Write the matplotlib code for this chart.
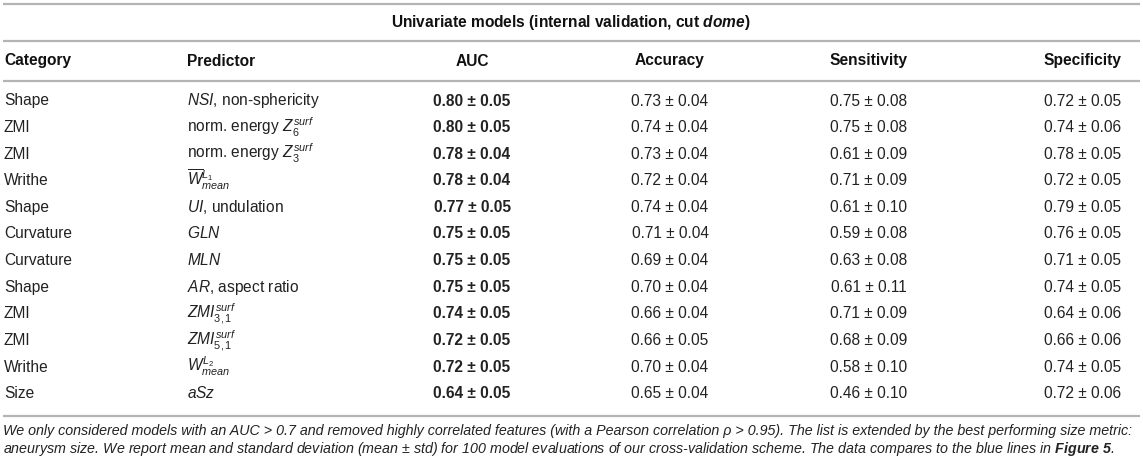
import matplotlib
matplotlib.use("Agg")
import matplotlib.pyplot as plt

plt.rcParams['font.family'] = ['Liberation Sans', 'DejaVu Sans']
plt.rcParams['mathtext.fontset'] = 'custom'
plt.rcParams['mathtext.rm'] = 'Liberation Sans'
plt.rcParams['mathtext.it'] = 'Liberation Sans:italic'
plt.rcParams['mathtext.bf'] = 'Liberation Sans:bold'
plt.rcParams['mathtext.bfit'] = 'Liberation Sans:italic:bold'

# table data
title = r"Univariate models (internal validation, cut $\mathbfit{dome}$)"
headers = ["Category", "Predictor", "AUC", "Accuracy", "Sensitivity", "Specificity"]
categories = ["Shape", "ZMI", "ZMI", "Writhe", "Shape", "Curvature",
              "Curvature", "Shape", "ZMI", "ZMI", "Writhe", "Size"]
predictors = [r"$NSI$, non-sphericity",
              r"norm. energy $Z_6^{surf}$",
              r"norm. energy $Z_3^{surf}$",
              r"$\overline{W}_{mean}^{L_1}$",
              r"$UI$, undulation",
              r"$GLN$",
              r"$MLN$",
              r"$AR$, aspect ratio",
              r"$ZMI_{3,1}^{surf}$",
              r"$ZMI_{5,1}^{surf}$",
              r"$W_{mean}^{L_2}$",
              r"$aSz$"]
auc_mean = [0.80, 0.80, 0.78, 0.78, 0.77, 0.75, 0.75, 0.75, 0.74, 0.72, 0.72, 0.64]
auc_std = [0.05, 0.05, 0.04, 0.04, 0.05, 0.05, 0.05, 0.05, 0.05, 0.05, 0.05, 0.05]
acc_mean = [0.73, 0.74, 0.73, 0.72, 0.74, 0.71, 0.69, 0.70, 0.66, 0.66, 0.70, 0.65]
acc_std = [0.04, 0.04, 0.04, 0.04, 0.04, 0.04, 0.04, 0.04, 0.04, 0.05, 0.04, 0.04]
sens_mean = [0.75, 0.75, 0.61, 0.71, 0.61, 0.59, 0.63, 0.61, 0.71, 0.68, 0.58, 0.46]
sens_std = [0.08, 0.08, 0.09, 0.09, 0.10, 0.08, 0.08, 0.11, 0.09, 0.09, 0.10, 0.10]
spec_mean = [0.72, 0.74, 0.78, 0.72, 0.79, 0.76, 0.71, 0.74, 0.64, 0.66, 0.74, 0.72]
spec_std = [0.05, 0.06, 0.05, 0.05, 0.05, 0.05, 0.05, 0.05, 0.06, 0.06, 0.05, 0.06]

note_line1 = ("We only considered models with an AUC > 0.7 and removed highly correlated "
              "features (with a Pearson correlation ρ > 0.95). The list is extended by the "
              "best performing size metric:")
note_line2 = (r"aneurysm size. We report mean and standard deviation (mean ± std) for 100 "
              r"model evaluations of our cross-validation scheme. The data compares to the "
              r"blue lines in $\mathbfit{Figure\ 5}$.")

# layout (pixels)
W, H = 1143, 463
fs = 11.2
line_color = '#b4b4b4'
col_x = [4, 187, 472, 670, 869, 1121]
col_ha = ['left', 'left', 'center', 'center', 'center', 'right']
row_y0, row_dy = 100, 26.6
base = 5.5  # baseline offset from row centre

fig = plt.figure(figsize=(W / 100, H / 100), dpi=100)
ax = fig.add_axes([0, 0, 1, 1])
ax.set_xlim(0, W)
ax.set_ylim(H, 0)
ax.axis('off')

for y in [4, 40.5, 80.5, 416]:
    ax.plot([3, 1140], [y, y], color=line_color, lw=1.6, solid_capstyle='butt')

ax.text(571, 22 + base, title, ha='center', va='baseline', fontsize=fs,
        fontweight='bold', color='#111111')

for x, ha, h in zip(col_x, col_ha, headers):
    ax.text(x, 60 + base, h, ha=ha, va='baseline', fontsize=fs,
            fontweight='bold', color='#111111')

for i in range(len(categories)):
    y = row_y0 + i * row_dy + base
    cells = [categories[i], predictors[i],
             f"{auc_mean[i]:.2f} ± {auc_std[i]:.2f}",
             f"{acc_mean[i]:.2f} ± {acc_std[i]:.2f}",
             f"{sens_mean[i]:.2f} ± {sens_std[i]:.2f}",
             f"{spec_mean[i]:.2f} ± {spec_std[i]:.2f}"]
    for j, (x, ha, c) in enumerate(zip(col_x, col_ha, cells)):
        ax.text(x, y, c, ha=ha, va='baseline', fontsize=fs, color='#222222',
                fontweight='bold' if j == 2 else 'normal')

# footnote: size chosen so the first line fills the table width
renderer = fig.canvas.get_renderer()
probe = ax.text(0, 0, note_line1, fontsize=10, style='italic')
natural = probe.get_window_extent(renderer).width
probe.remove()
x0, x1 = 3, 1140
fn_fs = 10 * (x1 - x0) / natural

ax.text(x0, 431 + 4.5, note_line1, ha='left', va='baseline', fontsize=fn_fs,
        style='italic', color='#222222')
ax.text(x0, 448 + 4.5, note_line2, ha='left', va='baseline', fontsize=fn_fs,
        style='italic', color='#222222')

fig.savefig('out.png', dpi=100)
